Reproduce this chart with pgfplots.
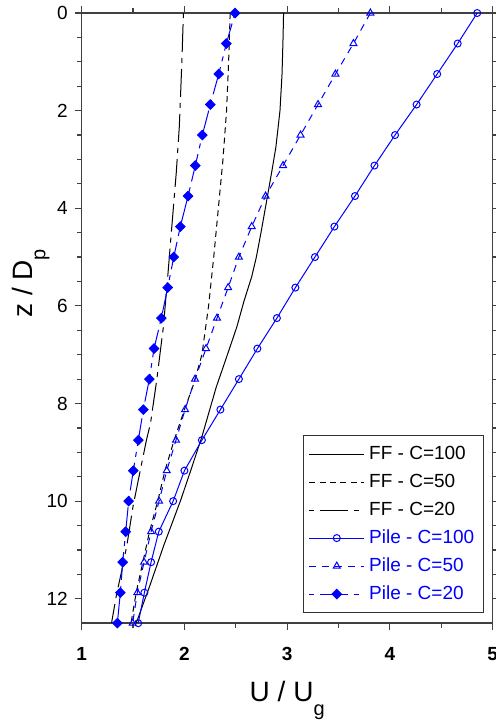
\documentclass[border=0pt]{standalone}
\usepackage{fontspec}
\setmainfont{Liberation Sans}
\usepackage{pgfplots}
\pgfplotsset{compat=1.18}
\definecolor{pileblue}{RGB}{0,0,255}

\newcommand{\lowsub}[1]{\raisebox{-6.7pt}{\fontsize{10}{12}\selectfont #1}}

\begin{document}
\begin{tikzpicture}
\useasboundingbox (-40.85pt,-48.4pt) rectangle (206.65pt,311.5pt);
\begin{axis}[
    scale only axis,
    width=205.4pt,
    height=305pt,
    xmin=1, xmax=5,
    ymin=0, ymax=12.5,
    y dir=reverse,
    xtick={1,2,3,4,5},
    ytick={0,2,4,6,8,10,12},
    minor x tick num=1,
    minor y tick num=3,
    tick align=outside,
    tick pos=both,
    major tick length=3.5pt,
    minor tick length=2.3pt,
    axis line style={black!75, line width=0.7pt},
    every tick/.style={black!75, line width=0.6pt},
    clip=false,
    /pgf/number format/assume math mode=true,
    xticklabel style={font=\fontsize{9.5}{11}\selectfont\bfseries, yshift=-5pt},
    yticklabel style={font=\fontsize{9.5}{11}\selectfont},
    xlabel={U / U\lowsub{g}},
    ylabel={z / D\lowsub{p}},
    xlabel style={font=\fontsize{14}{16}\selectfont, at={([yshift=-39.2pt]axis description cs:0.5,0)}, anchor=base},
    ylabel style={font=\fontsize{14}{16}\selectfont, at={([xshift=-24.85pt]axis description cs:0,0.557)}, anchor=base},
    legend image code/.code={
        \draw[mark repeat=2,mark phase=2,#1] plot coordinates {(0pt,0pt) (13.75pt,0pt) (27.5pt,0pt)};
    },
    legend style={at={(axis description cs:0.9795,0.017)}, anchor=south east,
        draw=black!80, line width=0.5pt, fill=white,
        font=\fontsize{9.5}{11}\selectfont,
        legend cell align=left, row sep=0.8pt, inner sep=2.5pt,
        nodes={inner sep=2.2pt, text height=7pt, text depth=1.8pt}},
]
% FF - C=100
\addplot[black, line width=0.5pt] coordinates {
    (2.965,0) (2.96,0.5) (2.95,1.25) (2.93,2) (2.89,2.75) (2.85,3.25) (2.80,3.85)
    (2.745,4.5) (2.70,5.0) (2.655,5.4) (2.58,5.9) (2.51,6.43) (2.41,7.05) (2.31,7.66)
    (2.17,8.68) (2.06,9.38) (1.96,10) (1.80,10.9) (1.66,11.75) (1.53,12.5)
};
\addlegendentry{FF - C=100}
% FF - C=50
\addplot[black, line width=0.5pt, dash pattern=on 3pt off 2.2pt] coordinates {
    (2.445,0) (2.43,1) (2.41,2) (2.375,3) (2.33,4) (2.285,5) (2.235,6) (2.17,7)
    (2.09,7.6) (2.00,8.125) (1.90,8.75) (1.81,9.375) (1.74,10) (1.66,10.625)
    (1.595,11.25) (1.53,11.875) (1.48,12.5)
};
\addlegendentry{FF - C=50}
% FF - C=20
\addplot[black, line width=0.5pt, dash pattern=on 2.5pt off 3pt on 14pt off 3pt] coordinates {
    (1.99,0) (1.975,1) (1.95,2.33) (1.92,3.28) (1.88,4.3) (1.84,5.33) (1.795,6.43)
    (1.73,7.52) (1.67,8.4) (1.63,8.75) (1.57,9.37) (1.50,10.1) (1.44,10.9)
    (1.39,11.42) (1.34,11.9) (1.29,12.5)
};
\addlegendentry{FF - C=20}
% Pile - C=100
\addplot[pileblue, line width=0.5pt, mark=o, mark size=1.75pt, mark options={solid, line width=0.5pt}] coordinates {
    (4.85,0) (4.66,0.625) (4.46,1.25) (4.26,1.875) (4.05,2.5) (3.85,3.125) (3.66,3.75)
    (3.46,4.375) (3.27,5) (3.08,5.625) (2.90,6.25) (2.71,6.875) (2.53,7.5) (2.35,8.125)
    (2.17,8.75) (2.00,9.375) (1.89,10) (1.75,10.625) (1.675,11.25) (1.61,11.875) (1.55,12.5)
};
\addlegendentry[text=pileblue]{Pile - C=100}
% Pile - C=50
\addplot[pileblue, line width=0.5pt, dash pattern=on 3.5pt off 3pt, mark=triangle, mark size=2pt, mark options={solid, line width=0.5pt}] coordinates {
    (3.81,0) (3.645,0.625) (3.47,1.25) (3.30,1.875) (3.13,2.5) (2.96,3.125) (2.79,3.75)
    (2.655,4.375) (2.53,5) (2.425,5.625) (2.317,6.25) (2.21,6.875) (2.103,7.5) (2.006,8.125)
    (1.918,8.75) (1.828,9.375) (1.753,10) (1.675,10.625) (1.607,11.25) (1.541,11.875) (1.496,12.5)
};
\addlegendentry[text=pileblue]{Pile - C=50}
% Pile - C=20
\addplot[pileblue, line width=0.5pt, dash pattern=on 2.5pt off 3pt on 14pt off 3pt, mark=square*, mark size=1.66pt, mark options={solid, rotate=45, fill=pileblue}] coordinates {
    (2.493,0) (2.408,0.625) (2.334,1.25) (2.252,1.875) (2.174,2.5) (2.106,3.125) (2.035,3.75)
    (1.96,4.375) (1.896,5) (1.837,5.625) (1.775,6.25) (1.704,6.875) (1.658,7.5) (1.60,8.125)
    (1.551,8.75) (1.502,9.375) (1.457,10) (1.428,10.625) (1.399,11.25) (1.376,11.875) (1.347,12.5)
};
\addlegendentry[text=pileblue]{Pile - C=20}
\end{axis}
\end{tikzpicture}
\end{document}
